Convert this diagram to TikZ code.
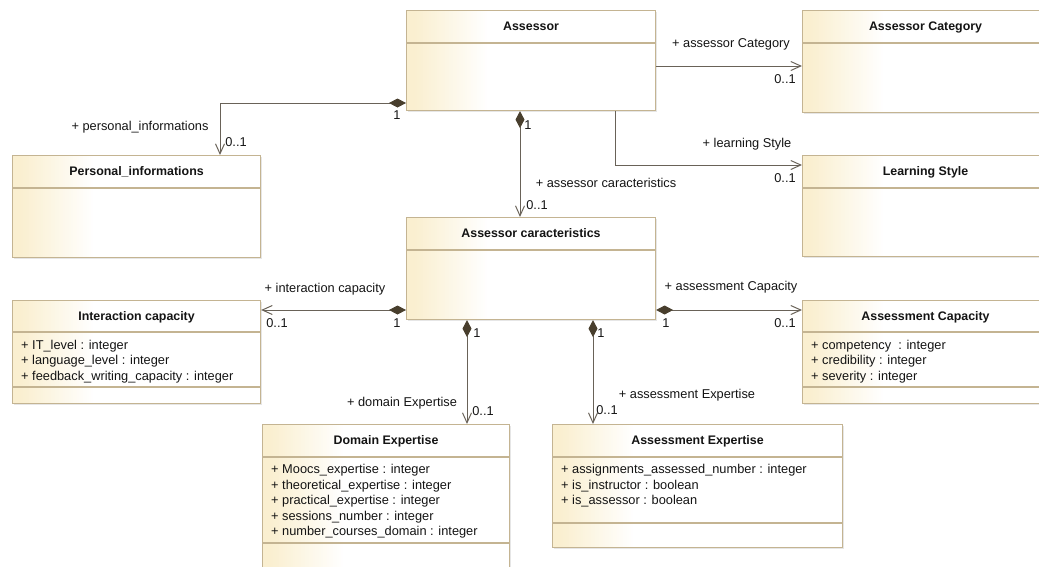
\documentclass[tikz,border=0pt]{standalone}
\usepackage{fontspec}
\setmainfont{Liberation Sans}
\usetikzlibrary{arrows.meta,shadows}
\definecolor{umlborder}{RGB}{196,180,146}
\definecolor{umlcream}{RGB}{250,239,208}
\definecolor{umlline}{RGB}{105,98,88}
\definecolor{umldiamond}{RGB}{72,62,45}
\definecolor{umltext}{RGB}{20,20,20}
\begin{document}
\begin{tikzpicture}[x=1pt, y=-1pt,
    umlclass/.style={draw=umlborder, line width=1.1pt, fill=white, anchor=north west, inner sep=0pt,
        drop shadow={shadow xshift=1.5pt, shadow yshift=-1.5pt, opacity=0.2},
        path picture={\foreach \i in {0,...,40} {
            \pgfmathsetmacro\umlpct{min(100,110-2.75*\i)}
            \fill[umlcream!\umlpct!white] ([xshift={2*\i}]path picture bounding box.north west)
                rectangle ([xshift={2*\i+2.4}]path picture bounding box.south west);}}},
    classname/.style={font=\fontsize{12.4}{15}\selectfont\bfseries, text=umltext, anchor=base, inner sep=0pt},
    attr/.style={font=\fontsize{12.8}{15}\selectfont, text=umltext, anchor=base west, inner sep=0pt},
    rolelabel/.style={font=\fontsize{12.8}{15}\selectfont, text=umltext, anchor=base, inner sep=0pt},
    separator/.style={draw=umlborder, line width=1.1pt},
    assoc/.style={draw=umlline, line width=1pt, arrows={-Straight Barb[length=10pt,width=9pt]}},
    compo/.style={draw=umlline, line width=1pt,
        arrows={Diamond[length=17pt,width=9pt,color=umldiamond]-Straight Barb[length=10pt,width=9pt]}}]

    \useasboundingbox (0,0) rectangle (1039,566);
    \clip (0,0) rectangle (1039,566);

    % classes
    \node[umlclass, minimum width=249pt, minimum height=100pt] (assessor) at (406,10) {};
    \node[umlclass, minimum width=246pt, minimum height=102pt] (category) at (802,10) {};
    \node[umlclass, minimum width=246pt, minimum height=101pt] (learning) at (802,155) {};
    \node[umlclass, minimum width=248pt, minimum height=102pt] (personal) at (12,155) {};
    \node[umlclass, minimum width=249pt, minimum height=102pt] (caract) at (406,217) {};
    \node[umlclass, minimum width=248pt, minimum height=103pt] (interaction) at (12,300) {};
    \node[umlclass, minimum width=246pt, minimum height=103pt] (asscap) at (802,300) {};
    \node[umlclass, minimum width=247pt, minimum height=160pt] (domain) at (262,424) {};
    \node[umlclass, minimum width=290pt, minimum height=123pt] (assexp) at (552,424) {};

    \draw[separator] ([yshift=-33pt]assessor.north west) -- ([yshift=-33pt]assessor.north east);
    \draw[separator] ([yshift=-33pt]category.north west) -- ([yshift=-33pt]category.north east);
    \draw[separator] ([yshift=-33pt]learning.north west) -- ([yshift=-33pt]learning.north east);
    \draw[separator] ([yshift=-33pt]personal.north west) -- ([yshift=-33pt]personal.north east);
    \draw[separator] ([yshift=-33pt]caract.north west) -- ([yshift=-33pt]caract.north east);
    \draw[separator] ([yshift=-32pt]interaction.north west) -- ([yshift=-32pt]interaction.north east);
    \draw[separator] ([yshift=-87pt]interaction.north west) -- ([yshift=-87pt]interaction.north east);
    \draw[separator] ([yshift=-32pt]asscap.north west) -- ([yshift=-32pt]asscap.north east);
    \draw[separator] ([yshift=-87pt]asscap.north west) -- ([yshift=-87pt]asscap.north east);
    \draw[separator] ([yshift=-33pt]domain.north west) -- ([yshift=-33pt]domain.north east);
    \draw[separator] ([yshift=-119pt]domain.north west) -- ([yshift=-119pt]domain.north east);
    \draw[separator] ([yshift=-33pt]assexp.north west) -- ([yshift=-33pt]assexp.north east);
    \draw[separator] ([yshift=-99pt]assexp.north west) -- ([yshift=-99pt]assexp.north east);

    \node[classname] (assessorname) at ([yshift=-20pt]assessor.north) {Assessor};
    \node[classname] (categoryname) at ([yshift=-20pt]category.north) {Assessor Category};
    \node[classname] (learningname) at ([yshift=-20pt]learning.north) {Learning Style};
    \node[classname] (personalname) at ([yshift=-20pt]personal.north) {Personal\_informations};
    \node[classname] (caractname) at ([yshift=-20pt]caract.north) {Assessor caracteristics};
    \node[classname] (interactionname) at ([yshift=-20pt]interaction.north) {Interaction capacity};
    \node[classname] (asscapname) at ([yshift=-20pt]asscap.north) {Assessment Capacity};
    \node[classname] (domainname) at ([yshift=-20pt]domain.north) {Domain Expertise};
    \node[classname] (assexpname) at ([yshift=-20pt]assexp.north) {Assessment Expertise};

    % attributes
    \node[attr] (interaction1) at ([xshift=9pt, yshift=-49pt]interaction.north west) {+ IT\_level : integer};
    \node[attr] (interaction2) at ([xshift=9pt, yshift=-64.5pt]interaction.north west) {+ language\_level : integer};
    \node[attr] (interaction3) at ([xshift=9pt, yshift=-80pt]interaction.north west) {+ feedback\_writing\_capacity : integer};

    \node[attr] (asscap1) at ([xshift=9pt, yshift=-49pt]asscap.north west) {+ competency~ : integer};
    \node[attr] (asscap2) at ([xshift=9pt, yshift=-64.5pt]asscap.north west) {+ credibility : integer};
    \node[attr] (asscap3) at ([xshift=9pt, yshift=-80pt]asscap.north west) {+ severity : integer};

    \node[attr] (domain1) at ([xshift=9pt, yshift=-49.5pt]domain.north west) {+ Moocs\_expertise : integer};
    \node[attr] (domain2) at ([xshift=9pt, yshift=-65pt]domain.north west) {+ theoretical\_expertise : integer};
    \node[attr] (domain3) at ([xshift=9pt, yshift=-80.5pt]domain.north west) {+ practical\_expertise : integer};
    \node[attr] (domain4) at ([xshift=9pt, yshift=-96pt]domain.north west) {+ sessions\_number : integer};
    \node[attr] (domain5) at ([xshift=9pt, yshift=-111.5pt]domain.north west) {+ number\_courses\_domain : integer};

    \node[attr] (assexp1) at ([xshift=9pt, yshift=-49.5pt]assexp.north west) {+ assignments\_assessed\_number : integer};
    \node[attr] (assexp2) at ([xshift=9pt, yshift=-65pt]assexp.north west) {+ is\_instructor : boolean};
    \node[attr] (assexp3) at ([xshift=9pt, yshift=-80.5pt]assexp.north west) {+ is\_assessor : boolean};

    % associations
    \draw[compo] ([yshift=-93pt]assessor.north west) -| ([xshift=208pt]personal.north west);
    \draw[compo] ([xshift=114pt]assessor.south west) -- ([xshift=114pt]caract.north west);
    \draw[assoc] ([yshift=-56pt]assessor.north east) -- ([yshift=-56pt]category.north west);
    \draw[assoc] ([xshift=-41pt]assessor.south east) |- ([yshift=-10pt]learning.north west);
    \draw[compo] ([yshift=-93pt]caract.north west) -- ([yshift=-10pt]interaction.north east);
    \draw[compo] ([yshift=-93pt]caract.north east) -- ([yshift=-10pt]asscap.north west);
    \draw[compo] ([xshift=61pt]caract.south west) -- ([xshift=205pt]domain.north west);
    \draw[compo] ([xshift=187pt]caract.south west) -- ([xshift=41pt]assexp.north west);

    % role names and multiplicities
    \node[rolelabel] (personalrole) at (140,130.5) {+ personal\_informations};
    \node[rolelabel] (personalmin) at (236,146) {0..1};
    \node[rolelabel] (personalone) at (397,119.5) {1};
    \node[rolelabel] (caractrole) at (606,187.5) {+ assessor caracteristics};
    \node[rolelabel] (caractmin) at (537,209.5) {0..1};
    \node[rolelabel] (caractone) at (528,129.5) {1};
    \node[rolelabel] (categoryrole) at (731,47.5) {+ assessor Category};
    \node[rolelabel] (categorymin) at (785,83.5) {0..1};
    \node[rolelabel] (learningrole) at (747,147.5) {+ learning Style};
    \node[rolelabel] (learningmin) at (785,182.5) {0..1};
    \node[rolelabel] (interactionrole) at (325,292.5) {+ interaction capacity};
    \node[rolelabel] (interactionmin) at (277,327.5) {0..1};
    \node[rolelabel] (interactionone) at (397,327.5) {1};
    \node[rolelabel] (asscaprole) at (731,290.5) {+ assessment Capacity};
    \node[rolelabel] (asscapmin) at (785,327.5) {0..1};
    \node[rolelabel] (asscapone) at (666,327.5) {1};
    \node[rolelabel] (domainrole) at (402,406.5) {+ domain Expertise};
    \node[rolelabel] (domainmin) at (483,415.5) {0..1};
    \node[rolelabel] (domainone) at (477,337.5) {1};
    \node[rolelabel] (assexprole) at (687,398.5) {+ assessment Expertise};
    \node[rolelabel] (assexpmin) at (607,414.5) {0..1};
    \node[rolelabel] (assexpone) at (601,337.5) {1};
\end{tikzpicture}
\end{document}
